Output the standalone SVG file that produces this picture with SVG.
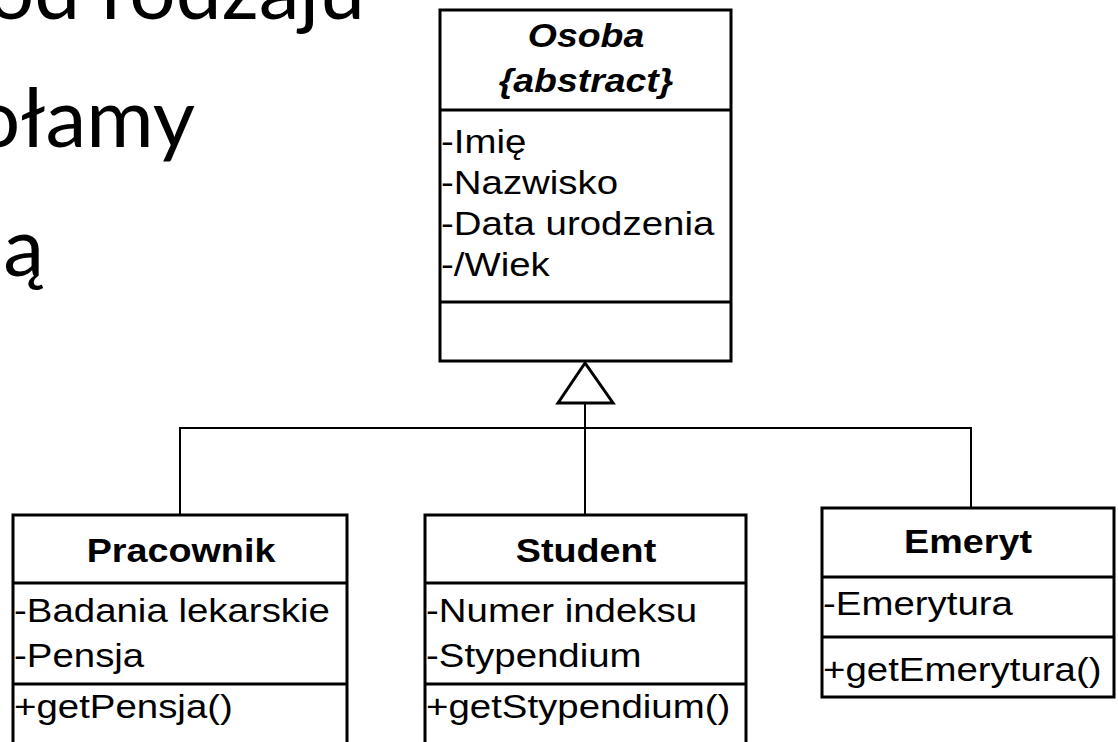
<svg xmlns="http://www.w3.org/2000/svg" width="1118" height="742" viewBox="0 0 1118 742">
<style>
.bg{font-family:Lato,"Open Sans","Noto Sans",sans-serif;font-size:82px;fill:#000}
.box{fill:#fff;stroke:#000;stroke-width:3}
.div{stroke:#000;stroke-width:3}
.t{font-family:"Liberation Sans",Arial,sans-serif;font-size:34px;fill:#000}
.title{font-weight:bold;text-anchor:middle}
.abs{font-style:italic}
.conn{fill:none;stroke:#000;stroke-width:2}
.tri{fill:#fff;stroke:#000;stroke-width:3;stroke-linejoin:miter}
</style>
<rect width="1118" height="742" fill="#fff"/>
<g id="background-text">
<text class="bg" x="365" y="19" text-anchor="end">od rodzaju</text>
<text class="bg" x="195" y="147" text-anchor="end">ołamy</text>
<text class="bg" x="44" y="276" text-anchor="end">ą</text>
</g>
<g id="connectors">
<polyline class="conn" points="180,515 180,428 971,428 971,508"/>
<line class="conn" x1="585" y1="403" x2="585" y2="515"/>
<polygon class="tri" points="585,363 558,403 613,403"/>
</g>
<g id="osoba">
<rect class="box" x="440" y="10" width="291" height="351"/>
<line class="div" x1="440" y1="110" x2="731" y2="110"/>
<line class="div" x1="440" y1="302" x2="731" y2="302"/>
<text class="t title abs" transform="translate(586,47) scale(1.1,1)">Osoba</text>
<text class="t title abs" transform="translate(586,92) scale(1.1,1)">{abstract}</text>
<text class="t" transform="translate(441,153) scale(1.13,1)">-Imię</text>
<text class="t" transform="translate(441,194) scale(1.13,1)">-Nazwisko</text>
<text class="t" transform="translate(441,235) scale(1.13,1)">-Data urodzenia</text>
<text class="t" transform="translate(441,276) scale(1.13,1)">-/Wiek</text>
</g>
<g id="pracownik">
<rect class="box" x="13" y="515" width="334" height="250"/>
<line class="div" x1="13" y1="583" x2="347" y2="583"/>
<line class="div" x1="13" y1="684" x2="347" y2="684"/>
<text class="t title" transform="translate(181,562) scale(1.11,1)">Pracownik</text>
<text class="t" transform="translate(14,622) scale(1.13,1)">-Badania lekarskie</text>
<text class="t" transform="translate(14,667) scale(1.13,1)">-Pensja</text>
<text class="t" transform="translate(14,718) scale(1.13,1)">+getPensja()</text>
</g>
<g id="student">
<rect class="box" x="425" y="515" width="321" height="250"/>
<line class="div" x1="425" y1="583" x2="746" y2="583"/>
<line class="div" x1="425" y1="684" x2="746" y2="684"/>
<text class="t title" transform="translate(586,562) scale(1.11,1)">Student</text>
<text class="t" transform="translate(426,622) scale(1.13,1)">-Numer indeksu</text>
<text class="t" transform="translate(426,667) scale(1.13,1)">-Stypendium</text>
<text class="t" transform="translate(426,718) scale(1.13,1)">+getStypendium()</text>
</g>
<g id="emeryt">
<rect class="box" x="822" y="508" width="292" height="189"/>
<line class="div" x1="822" y1="577" x2="1114" y2="577"/>
<line class="div" x1="822" y1="637" x2="1114" y2="637"/>
<text class="t title" transform="translate(968,553) scale(1.11,1)">Emeryt</text>
<text class="t" transform="translate(823,615) scale(1.13,1)">-Emerytura</text>
<text class="t" transform="translate(823,681) scale(1.13,1)">+getEmerytura()</text>
</g>
</svg>
